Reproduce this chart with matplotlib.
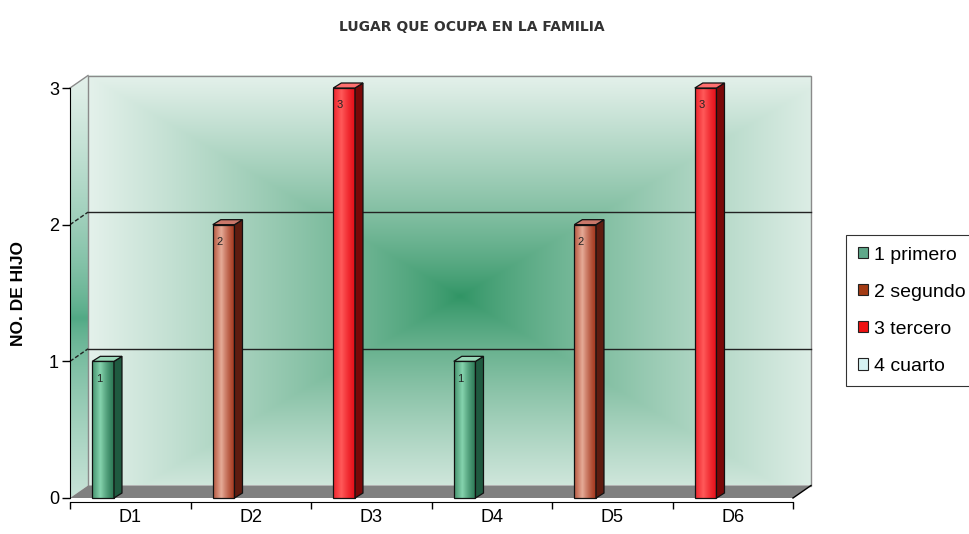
import numpy as np
import matplotlib.pyplot as plt
from matplotlib.patches import Polygon, Patch
from matplotlib.colors import to_rgb

categorias = ['D1', 'D2', 'D3', 'D4', 'D5', 'D6']
valores = [1, 2, 3, 1, 2, 3]
series = ['1 primero', '2 segundo', '3 tercero', '4 cuarto']
serie_de_barra = [0, 1, 2, 0, 1, 2]
yticks = [0, 1, 2, 3]

colores_leyenda = ['#5fa88a', '#a33b14', '#ee1111', '#d6f2f2']
# front edge, front centre, side, top
caras = [
    ('#2d7a57', '#86d4ae', '#1f5a40', '#9ad8b8'),
    ('#a5391f', '#e6ab98', '#5e1c10', '#c9776a'),
    ('#e8101a', '#ff5a5a', '#7a0808', '#ff7070'),
]

plt.rcParams['font.family'] = ['Liberation Sans', 'DejaVu Sans']

W, H = 970, 534
fig = plt.figure(figsize=(9.7, 5.34), dpi=100)

# front plane in pixels
x0, x6, y0, y3 = 70, 793, 498, 88
ppx = (x6 - x0) / 6
ppy = (y0 - y3) / 3
xlim = (-0.06, 6.3)
ylim = (-0.12, 3.2)
left = x0 + xlim[0] * ppx
right = x0 + xlim[1] * ppx
bottom = y0 - ylim[0] * ppy
top = y0 - ylim[1] * ppy
ax = fig.add_axes([left / W, 1 - bottom / H, (right - left) / W, (bottom - top) / H])

# depth of the wall / floor
dx = 18 / ppx
dy = 12.5 / ppy
ymax = yticks[-1]
n = len(categorias)

# back wall, gradient from the centre
u = np.linspace(-1, 1, 400)
v = np.linspace(-1, 1, 220)
U, V = np.meshgrid(u, v)
t = np.clip(np.maximum(np.abs(U - 0.03) / 1.03, np.abs(V + 0.08) / 1.08), 0, 1)
w = t ** 0.8
light = np.array(to_rgb('#e4f1eb'))
dark = np.array(to_rgb('#2f9464'))
img = dark + (light - dark) * w[..., None]
ax.imshow(img, extent=(dx, n + dx, dy, ymax + dy), aspect='auto', origin='lower',
          zorder=0, interpolation='bilinear')
ax.add_patch(plt.Rectangle((dx, dy), n, ymax, fill=False, edgecolor='#8a8a8a', lw=1, zorder=1))

# left side wall
vv = np.linspace(-1, 1, 200)[:, None] * np.ones((1, 10))
ws = np.clip(np.abs(vv + 0.15) / 1.15, 0, 1) ** 0.7
side_img = np.array(to_rgb('#4fa883')) + (np.array(to_rgb('#e4f1eb')) - np.array(to_rgb('#4fa883'))) * ws[..., None]
side_poly = Polygon([(0, 0), (dx, dy), (dx, ymax + dy), (0, ymax)], closed=True,
                    facecolor='none', edgecolor='none')
ax.add_patch(side_poly)
im = ax.imshow(side_img, extent=(0, dx, 0, ymax + dy), aspect='auto', origin='lower',
               zorder=0.5, interpolation='bilinear')
im.set_clip_path(side_poly)
ax.plot([0, dx], [ymax, ymax + dy], color='#8a8a8a', lw=1, zorder=1)

# floor
ax.add_patch(Polygon([(0, 0), (n, 0), (n + dx, dy), (dx, dy)], closed=True,
                     facecolor='#808080', edgecolor='none', zorder=1))
ax.plot([n, n + dx], [0, dy], color='black', lw=1, zorder=2)

# gridlines on the back wall and the side wall
for yt in yticks[1:-1]:
    ax.plot([dx, n + dx], [yt + dy, yt + dy], color='#222222', lw=1, zorder=1.5)
    ax.plot([0, dx], [yt, yt + dy], color='#222222', lw=1, ls=(0, (3, 1.5)), zorder=1.5)

# bars with a fake 3d look
xs = np.arange(n) + 0.275
bw = 0.18
bdx = 8 / ppx
bdy = 5 / ppy
bars = ax.bar(xs, valores, width=bw, color='none', edgecolor='#111111', linewidth=0.9, zorder=6)
s = np.linspace(0, 1, 60)
prof = np.clip(1 - np.abs(s - 0.38) / 0.62, 0, 1) ** 1.3
for rect, k, val in zip(bars, serie_de_barra, valores):
    bx, by = rect.get_x(), rect.get_y()
    bwid, bh = rect.get_width(), rect.get_height()
    edge, centre, sidec, topc = [np.array(to_rgb(c)) for c in caras[k]]
    grad = edge + (centre - edge) * prof[None, :, None]
    grad = np.repeat(grad, 2, axis=0)
    ax.imshow(grad, extent=(bx, bx + bwid, by, by + bh), aspect='auto', origin='lower',
              zorder=5, interpolation='bilinear')
    ax.add_patch(Polygon([(bx + bwid, by), (bx + bwid + bdx, by + bdy),
                          (bx + bwid + bdx, by + bh + bdy), (bx + bwid, by + bh)],
                         closed=True, facecolor=sidec, edgecolor='#111111', lw=0.9, zorder=6))
    ax.add_patch(Polygon([(bx, by + bh), (bx + bwid, by + bh),
                          (bx + bwid + bdx, by + bh + bdy), (bx + bdx, by + bh + bdy)],
                         closed=True, facecolor=topc, edgecolor='#111111', lw=0.9, zorder=6))
    ax.text(bx + 0.3 * bwid, by + bh - 0.09, str(val), fontsize=8, ha='center', va='top',
            color='#222222', zorder=7)

# axes
ax.set_xlim(xlim)
ax.set_ylim(ylim)
for sp in ['top', 'right']:
    ax.spines[sp].set_visible(False)
ax.spines['left'].set_bounds(0, ymax)
ax.spines['left'].set_position(('data', 0))
ax.spines['bottom'].set_bounds(0, n)
ax.spines['bottom'].set_position(('data', -0.03))
ax.set_yticks(yticks)
ax.set_xticks(np.arange(n + 1))
ax.set_xticklabels([])
ax.set_xticks(np.arange(n) + 0.5, minor=True)
ax.set_xticklabels(categorias, minor=True)
ax.tick_params(axis='x', which='major', length=5, width=1)
ax.tick_params(axis='x', which='minor', length=0, pad=5, labelsize=13)
ax.tick_params(axis='y', length=6, width=1, labelsize=13, pad=2)
ax.patch.set_visible(False)

fig.text(472 / W, 1 - 27 / H, 'LUGAR QUE OCUPA EN LA FAMILIA', ha='center', va='center',
         fontsize=10, fontweight='bold', color='#333333', family='DejaVu Sans')
fig.text(19 / W, 1 - 293 / H, 'NO. DE HIJO', rotation=90, ha='center', va='center',
         fontsize=12.5, fontweight='bold')

handles = [Patch(facecolor=c, edgecolor='#222222', lw=0.8) for c in colores_leyenda]
leg = fig.legend(handles, series, loc='upper left', bbox_to_anchor=(846 / W, 1 - 235 / H),
                 frameon=True, fancybox=False, edgecolor='black', fontsize=14,
                 handlelength=0.52, handleheight=0.52, handletextpad=0.3,
                 labelspacing=1.03, borderpad=0.6, borderaxespad=0)
leg.get_frame().set_linewidth(0.8)

fig.savefig('out.png', dpi=100)
